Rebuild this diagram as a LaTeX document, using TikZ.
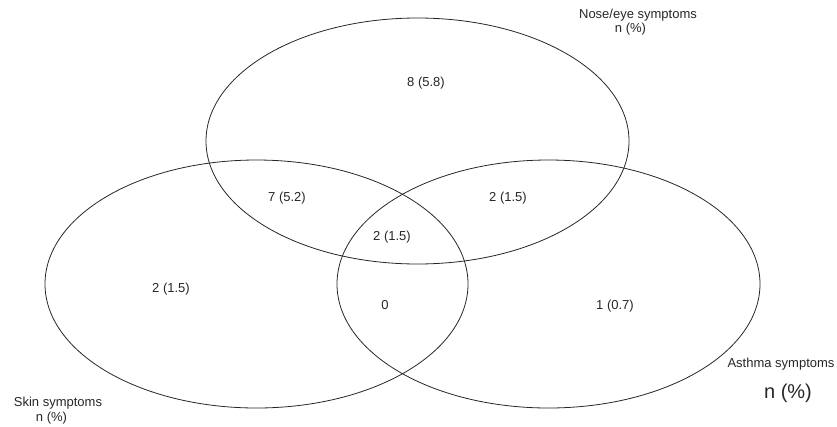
\documentclass[tikz,border=0pt]{standalone}
\usepackage{fontspec}
\setmainfont{Liberation Sans}
\begin{document}
\begin{tikzpicture}[x=1pt,y=-1pt,
  venn/.style={draw=black!85, line width=0.8pt},
  lbl/.style={inner sep=0pt, font=\fontsize{13}{15}\selectfont, text=black!85},
  biglbl/.style={inner sep=0pt, font=\fontsize{20}{24}\selectfont, text=black!85}]
\useasboundingbox (0,0) rectangle (837,426);
% ellipses
\draw[venn] (417.5,141) ellipse [x radius=211.5, y radius=123];
\draw[venn] (256.5,284) ellipse [x radius=211.5, y radius=124];
\draw[venn] (548.5,284) ellipse [x radius=211.5, y radius=124];
% region counts
\node[lbl] (n1) at (426,83) {8 (5.8)};
\node[lbl] (n2) at (287,198) {7 (5.2)};
\node[lbl] (n3) at (508,198) {2 (1.5)};
\node[lbl] (n4) at (392,237) {2 (1.5)};
\node[lbl] (n5) at (171,289) {2 (1.5)};
\node[lbl] (n6) at (385,305) {0};
\node[lbl] (n7) at (615,306) {1 (0.7)};
% set labels
\node[lbl] (t1) at (638,15) {Nose/eye symptoms};
\node[lbl] (t1n) at (630.5,29) {n (\%)};
\node[lbl] (t2) at (781,364) {Asthma symptoms};
\node[biglbl] (t2n) at (788,393) {n (\%)};
\node[lbl] (t3) at (58,403) {Skin symptoms};
\node[lbl] (t3n) at (51.5,418) {n (\%)};
\end{tikzpicture}
\end{document}
